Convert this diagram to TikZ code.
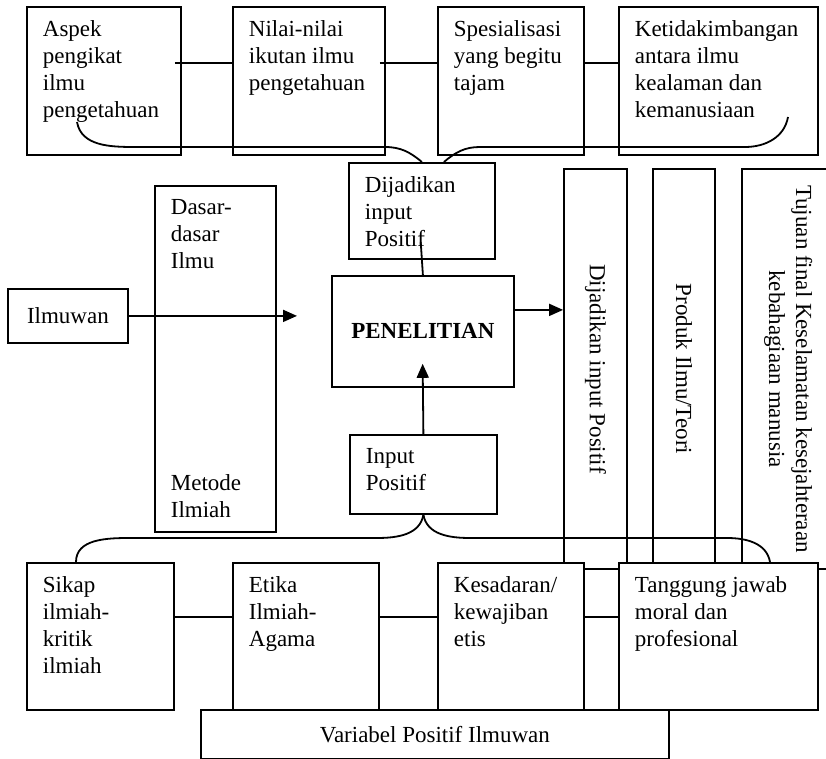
\documentclass[tikz,border=0pt]{standalone}
\usepackage{fontspec}
\setmainfont{Liberation Serif}
\usetikzlibrary{arrows.meta}

% text block pinned to the top left corner of a box (sizes in px)
\newcommand{\boxtext}[3]{%
  \begin{minipage}[c][\dimexpr#2pt/2-14pt\relax][t]{\dimexpr#1pt/2-16pt\relax}\raggedright#3\end{minipage}}

\begin{document}
\begin{tikzpicture}[
        x=0.5pt, y=-0.5pt,
        every node/.style={font=\fontsize{11.5}{13.5}\selectfont},
        box/.style={rectangle, draw, line width=0.9pt, fill=white, anchor=north west, inner xsep=8pt, inner ysep=7pt},
        plainbox/.style={rectangle, draw, line width=0.9pt, fill=white, anchor=north west, inner sep=0pt},
        tallbox/.style={rectangle, draw, line width=0.9pt, fill=white, minimum height=200pt, inner sep=0pt},
        arrow/.style={-{Triangle[length=7pt, width=6pt]}, line width=0.9pt},
        link/.style={line width=0.9pt}
    ]
    \useasboundingbox (0,0) rectangle (826,759);
    \clip (0,0) rectangle (826,759);

    % Top row
    \node[box] (aspek) at (26,6) {\boxtext{154}{148}{Aspek\\pengikat\\ilmu\\pengetahuan}};
    \node[box] (nilai) at (232,6) {\boxtext{152}{148}{Nilai-nilai\\ikutan ilmu\\pengetahuan}};
    \node[box] (spesial) at (437,6) {\boxtext{146}{148}{Spesialisasi\\yang begitu\\tajam}};
    \node[box] (timpang) at (618,6) {\boxtext{199}{148}{Ketidakimbangan\\antara ilmu\\kealaman dan\\kemanusiaan}};

    % Middle
    \node[box] (dijadikan) at (348,162) {\boxtext{146}{96}{Dijadikan\\input\\Positif}};
    \node[plainbox, minimum width=60pt, minimum height=27pt] (ilmuwan) at (7,288) {Ilmuwan};
    \node[box] (dasar) at (154,185) {\boxtext{121}{346}{Dasar-\\dasar\\Ilmu\par\vspace{\fill}Metode\\Ilmiah}};
    \node[plainbox, minimum width=91pt, minimum height=55.5pt] (penelitian) at (331,275) {\bfseries PENELITIAN};
    \node[box] (input) at (349,434) {\boxtext{147}{79}{Input\\Positif}};

    % Tall boxes on the right
    \node[tallbox, minimum width=31.5pt] (prodin) at (595.5,369) {\rotatebox{-90}{Dijadikan input Positif}};
    \node[tallbox, minimum width=31pt] (produk) at (684,369) {\rotatebox{-90}{Produk Ilmu/Teori}};
    \node[tallbox, minimum width=46pt] (tujuan) at (788,369) {\rotatebox{-90}{\begin{tabular}{@{}c@{}}Tujuan final Keselamatan kesejahteraan\\kebahagiaan manusia\end{tabular}}};

    % Bottom row
    \node[box] (sikap) at (26,562) {\boxtext{147}{147}{Sikap\\ilmiah-\\kritik\\ilmiah}};
    \node[box] (etika) at (232,562) {\boxtext{146}{147}{Etika\\Ilmiah-\\Agama}};
    \node[box] (sadar) at (437,562) {\boxtext{146}{147}{Kesadaran/\\kewajiban\\etis}};
    \node[box] (tanggung) at (618,562) {\boxtext{199}{147}{Tanggung jawab\\moral dan\\profesional}};
    \node[plainbox, minimum width=234pt, minimum height=24.5pt] (variabel) at (200,709) {Variabel Positif Ilmuwan};

    % Braces
    \draw[link] (77,122) to[out=-80, in=180] (135,147) -- (385,147) to[out=0, in=140] (dijadikan.north);
    \draw[link] (788,117) to[out=-100, in=0] (745,147) -- (480,147) to[out=180, in=40] ([xshift=11pt]dijadikan.north);
    \draw[link] (input.south) to[out=-100, in=0] (377,538) -- (130,538) to[out=180, in=90] ([xshift=25pt]sikap.north west);
    \draw[link] (input.south) to[out=-80, in=180] (470,538) -- (727,538) to[out=0, in=100] ([xshift=76pt]tanggung.north west);

    % Links between boxes
    \draw[link, shorten <=-3.5pt] ([yshift=9pt]aspek.east) -- ([yshift=9pt]nilai.west);
    \draw[link, shorten <=-3pt] ([yshift=9pt]nilai.east) -- ([yshift=9pt]spesial.west);
    \draw[link] ([yshift=9pt]spesial.east) -- ([yshift=9pt]timpang.west);
    \draw[link] ([yshift=9.75pt]sikap.east) -- ([yshift=9.75pt]etika.west);
    \draw[link] ([yshift=9.75pt]etika.east) -- ([yshift=9.75pt]sadar.west);
    \draw[link] ([yshift=9.75pt]sadar.east) -- ([yshift=9.75pt]tanggung.west);

    % Arrows
    \draw[arrow, shorten >=17pt] (ilmuwan.east) -- (ilmuwan.east -| penelitian.west);
    \draw[arrow] ([yshift=10.75pt]penelitian.east) -- ([yshift=10.75pt]penelitian.east -| prodin.west);
    \draw[arrow, shorten >=-12pt] (input.north) -- (penelitian.south);
    \draw[link, shorten >=-9pt] (penelitian.north) -- (dijadikan.south);

\end{tikzpicture}
\end{document}
